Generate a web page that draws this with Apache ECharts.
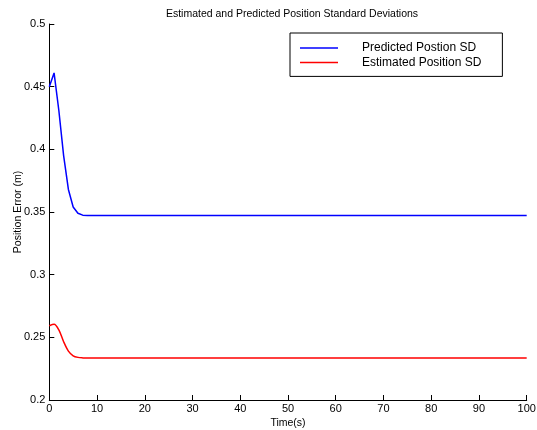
<!DOCTYPE html>
<html>
<head>
<meta charset="utf-8">
<script src="https://cdn.jsdelivr.net/npm/echarts@6/dist/echarts.min.js"></script>
<style>html,body{margin:0;padding:0;background:#fff;}#c{width:537px;height:430px;}</style>
</head>
<body>
<div id="c"></div>
<script>
var timeSteps = [0, 1, 2, 3, 4, 5, 6, 7, 8, 9, 10, 20, 30, 40, 50, 60, 70, 80, 90, 100];
var predictedSD = [0.450, 0.461, 0.431, 0.395, 0.368, 0.354, 0.349, 0.3475, 0.3472, 0.3472, 0.3472, 0.3472, 0.3472, 0.3472, 0.3472, 0.3472, 0.3472, 0.3472, 0.3472, 0.3472];
var estimatedSD = [0.2593, 0.2604, 0.2559, 0.2465, 0.2390, 0.2353, 0.2340, 0.2336, 0.2335, 0.2335, 0.2335, 0.2335, 0.2335, 0.2335, 0.2335, 0.2335, 0.2335, 0.2335, 0.2335, 0.2335];
var seriesNames = ['Predicted Postion SD', 'Estimated Position SD'];
var titleText = 'Estimated and Predicted Position Standard Deviations';
var xName = 'Time(s)';
var yName = 'Position Error (m)';

function pairs(xs, ys) { return xs.map(function (x, i) { return [x, ys[i]]; }); }

var font = '"Liberation Sans", Arial, Helvetica, sans-serif';
var chart = echarts.init(document.getElementById('c'));
chart.setOption({
  animation: false,
  backgroundColor: '#ffffff',
  title: {
    text: titleText,
    left: 287, top: 4, textAlign: 'center',
    textStyle: { fontFamily: font, fontSize: 10.5, fontWeight: 'normal', color: '#000' }
  },
  legend: {
    orient: 'vertical',
    left: 290, top: 33,
    padding: [9, 21, 8, 10],
    itemWidth: 38, itemHeight: 1.5, itemGap: 2.4,
    backgroundColor: '#fff',
    borderColor: '#000', borderWidth: 1,
    icon: 'rect',
    formatter: function (n) { return '{a|' + n + '}'; },
    textStyle: {
      fontFamily: font, fontSize: 12, lineHeight: 12, color: '#000',
      rich: { a: { fontFamily: font, fontSize: 12, lineHeight: 12, color: '#000', padding: [0, 0, 0, 19] } }
    },
    data: seriesNames
  },
  grid: { left: 49.3, right: 10.3, top: 24, bottom: 30, outerBoundsMode: 'none', containLabel: false },
  xAxis: {
    type: 'value', min: 0, max: 100, interval: 10,
    name: xName, nameLocation: 'middle', nameGap: 18, nameMoveOverlap: false,
    nameTextStyle: { fontFamily: font, fontSize: 10.5, color: '#000' },
    axisLine: { lineStyle: { color: '#000', width: 1 } },
    axisTick: { inside: true, length: 5, lineStyle: { color: '#000' } },
    axisLabel: { margin: 3, fontFamily: font, fontSize: 11, color: '#000' },
    splitLine: { show: false }
  },
  yAxis: {
    type: 'value', min: 0.2, max: 0.5, interval: 0.05,
    name: yName, nameLocation: 'middle', nameGap: 26, nameMoveOverlap: false,
    nameTextStyle: { fontFamily: font, fontSize: 10.5, color: '#000' },
    axisLine: { show: true, lineStyle: { color: '#000', width: 1 } },
    axisTick: { show: true, inside: true, length: 5, lineStyle: { color: '#000' } },
    axisLabel: { margin: 4, fontFamily: font, fontSize: 11, color: '#000' },
    splitLine: { show: false }
  },
  series: [
    {
      name: seriesNames[0], type: 'line', showSymbol: false, symbol: 'none',
      data: pairs(timeSteps, predictedSD),
      lineStyle: { color: '#0000ff', width: 1.5 }, itemStyle: { color: '#0000ff' }
    },
    {
      name: seriesNames[1], type: 'line', showSymbol: false, symbol: 'none', smooth: 0.3,
      data: pairs(timeSteps, estimatedSD),
      lineStyle: { color: '#ff0000', width: 1.5 }, itemStyle: { color: '#ff0000' }
    }
  ]
});
</script>
</body>
</html>
